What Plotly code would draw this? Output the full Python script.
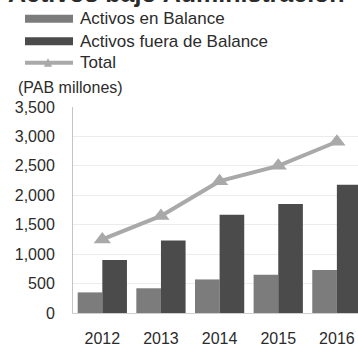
import plotly.graph_objects as go

years = ["2012", "2013", "2014", "2015", "2016"]
activos_balance = [350, 420, 570, 650, 730]
activos_fuera = [900, 1230, 1670, 1850, 2180]
total = [1250, 1650, 2240, 2500, 2910]
y_ticks = [0, 500, 1000, 1500, 2000, 2500, 3000, 3500]

C_LIGHT = "#7c7c7c"
C_DARK = "#4b4b4b"
C_LINE = "#a9a9a9"
C_TEXT = "#2b2b2b"
FONT = "Liberation Sans, Arial, sans-serif"

W, H = 358, 347
L, R, T, B = 73, 0, 107, 30
PW, PH = W - L - R, H - T - B

def px(x):
    return (x - L) / PW

def py(y):
    return (H - B - y) / PH

fig = go.Figure()
fig.add_trace(go.Bar(x=years, y=activos_balance, name="Activos en Balance",
                     marker=dict(color=C_LIGHT, line=dict(width=0)), showlegend=False))
fig.add_trace(go.Bar(x=years, y=activos_fuera, name="Activos fuera de Balance",
                     marker=dict(color=C_DARK, line=dict(width=0)), showlegend=False))
fig.add_trace(go.Scatter(x=years, y=total, name="Total", mode="lines+markers",
                         line=dict(color=C_LINE, width=4),
                         marker=dict(symbol="triangle-up", size=15, color=C_LINE),
                         showlegend=False))

shapes = []
annotations = []
# manual legend
leg = [("Activos en Balance", C_LIGHT, 17, "bar"),
       ("Activos fuera de Balance", C_DARK, 40, "bar"),
       ("Total", C_LINE, 62, "line")]
for name, col, yc, kind in leg:
    if kind == "bar":
        shapes.append(dict(type="rect", xref="paper", yref="paper",
                           x0=px(25), x1=px(73), y0=py(yc + 4), y1=py(yc - 4),
                           fillcolor=col, line=dict(width=0)))
    else:
        shapes.append(dict(type="line", xref="paper", yref="paper",
                           x0=px(25), x1=px(73), y0=py(yc), y1=py(yc),
                           line=dict(color=col, width=4)))
        shapes.append(dict(type="path", xref="paper", yref="paper",
                           path=f"M {px(44)} {py(yc+4)} L {px(52)} {py(yc+4)} L {px(48)} {py(yc-5)} Z",
                           fillcolor=col, line=dict(width=0)))
    annotations.append(dict(text=name, xref="paper", yref="paper", x=px(78), y=py(yc),
                            xanchor="left", yanchor="middle", showarrow=False,
                            font=dict(size=17, color=C_TEXT, family=FONT)))

annotations.append(dict(text="(PAB millones)", xref="paper", yref="paper", x=px(16), y=py(87),
                        xanchor="left", yanchor="middle", showarrow=False,
                        font=dict(size=16, color=C_TEXT, family=FONT)))
annotations.append(dict(text="<b>Activos bajo Administración</b>", xref="paper", yref="paper",
                        x=px(176), y=py(7), xanchor="center", yanchor="bottom", showarrow=False,
                        font=dict(size=25, color=C_TEXT, family=FONT)))

fig.update_layout(
    width=W, height=H,
    margin=dict(l=L, r=R, t=T, b=B),
    paper_bgcolor="white", plot_bgcolor="white",
    barmode="group", bargap=0.16, bargroupgap=0,
    shapes=shapes, annotations=annotations,
    font=dict(family=FONT, color=C_TEXT, size=16),
)
fig.update_xaxes(type="category", range=[-0.5, 4.36], showgrid=False,
                 showline=True, linecolor="#cfcfcf", linewidth=1,
                 ticks="", ticklabelstandoff=11,
                 tickfont=dict(size=16, color=C_TEXT))
fig.update_yaxes(range=[0, 3500], tickvals=y_ticks, tickformat=",",
                 showgrid=True, gridcolor="#ececec", gridwidth=1,
                 showline=True, linecolor="#c4c4c4", linewidth=1,
                 zeroline=False, ticks="", ticklabelstandoff=14,
                 tickfont=dict(size=16, color=C_TEXT))

fig.write_html("out.html")
